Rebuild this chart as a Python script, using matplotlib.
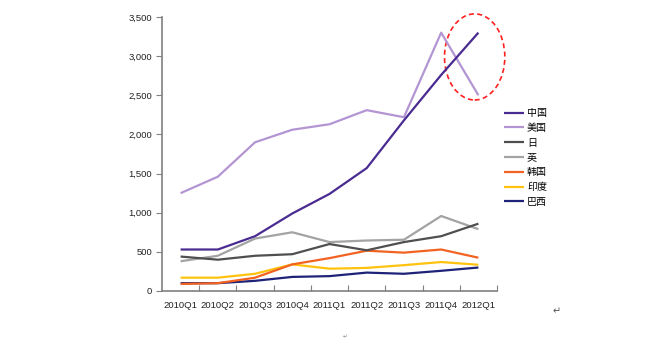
import matplotlib
matplotlib.use("Agg")
from matplotlib import pyplot as plt
from matplotlib.patches import Ellipse
from matplotlib.ticker import FuncFormatter

quarters = ["2010Q1", "2010Q2", "2010Q3", "2010Q4", "2011Q1",
            "2011Q2", "2011Q3", "2011Q4", "2012Q1"]

china = [530, 530, 700, 990, 1240, 1570, 2180, 2760, 3300]
usa = [1250, 1460, 1900, 2060, 2130, 2310, 2220, 3300, 2500]
japan = [440, 400, 450, 470, 600, 520, 625, 700, 860]
uk = [380, 450, 670, 750, 625, 645, 655, 958, 790]
korea = [90, 100, 170, 340, 420, 515, 490, 530, 425]
india = [170, 170, 220, 340, 285, 295, 330, 370, 335]
brazil = [100, 100, 130, 180, 190, 235, 220, 258, 300]

names = ["中国", "美国", "日", "英", "韩国", "印度", "巴西"]
series = [china, usa, japan, uk, korea, india, brazil]
colors = ["#4a2b91", "#b395d3", "#4f4f4f", "#a3a3a3", "#f26322", "#ffc20e", "#1e2378"]

plt.rcParams['font.family'] = ['Liberation Sans', 'Noto Sans CJK SC', 'DejaVu Sans']

fig = plt.figure(figsize=(6.46, 3.39), dpi=100)
ax = fig.add_axes([162/646, 48/339, 335/646, 274/339])

x = list(range(len(quarters)))
handles = []
# draw in reverse so China ends up on top
for name, vals, c in list(zip(names, series, colors))[::-1]:
    h, = ax.plot(x, vals, color=c, lw=1.6, label=name, solid_capstyle='butt')
    handles.append(h)
handles = handles[::-1]

# dashed ring around the last two points
ax.add_patch(Ellipse((7.9, 2990), 1.62, 1100, fill=False, ec="#ff2020",
                     ls=(0, (3, 2)), lw=1.2, clip_on=False))

ax.set_xlim(-0.5, 8.5)
ax.set_ylim(0, 3500)
ax.set_yticks(range(0, 3501, 500))
ax.yaxis.set_major_formatter(FuncFormatter(lambda v, p: f"{int(v):,}"))

ax.set_xticks([i + 0.5 for i in x])
ax.set_xticklabels([])
ax.set_xticks(x, minor=True)
ax.set_xticklabels(quarters, minor=True)
ax.tick_params(axis='x', which='minor', length=0, pad=7)
ax.tick_params(axis='x', which='major', length=4, direction='in', color="#808080")
ax.tick_params(axis='y', length=4, direction='out', color="#808080", pad=3)
ax.tick_params(which='both', labelsize=6.8, labelcolor="#222222")

for s in ['top', 'right']:
    ax.spines[s].set_visible(False)
for s in ['left', 'bottom']:
    ax.spines[s].set_color("#808080")
    ax.spines[s].set_linewidth(1.2)

fig.legend(handles=handles, labels=names, loc='upper left',
           bbox_to_anchor=(500/646, 1 - 104/339), frameon=False,
           fontsize=7.2, handlelength=2.0, handletextpad=0.3,
           labelspacing=0.48, borderaxespad=0)

fig.text(553/646, 1 - 311/339, "↵", fontsize=7, color="#555555",
         family=['DejaVu Sans'], va='center')
fig.text(343/646, 1 - 337/339, "↵", fontsize=4, color="#888888",
         family=['DejaVu Sans'], va='center')

fig.savefig("out.png", dpi=100)
